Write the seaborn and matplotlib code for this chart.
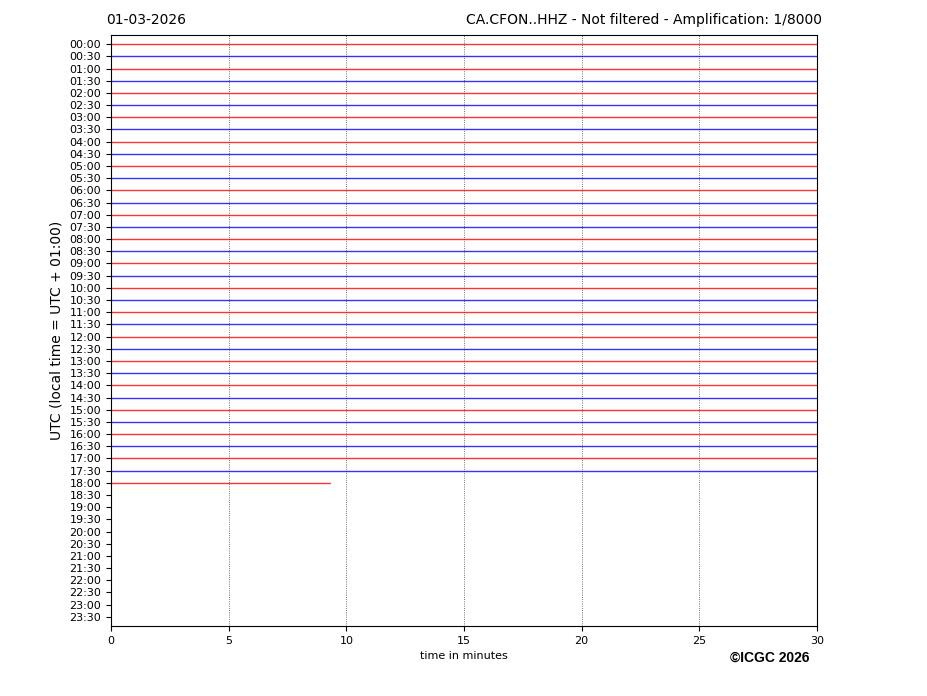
import pandas as pd
import matplotlib
matplotlib.use("Agg")
import matplotlib.pyplot as plt
import seaborn as sns

# row labels (one line every 30 minutes)
row_labels = ["%02d:%02d" % (h, m) for h in range(24) for m in (0, 30)]
# minutes recorded on each line that has data (00:00 .. 18:00)
trace_end = [30] * 36 + [9.3]
# trace colours alternate red / blue
trace_colors = ["red", "blue"] * 18 + ["red"]
# trace offset from the line baseline (signal is near-flat at this gain)
trace_level = [0.0] * 37

rows = []
for i, (end, lvl) in enumerate(zip(trace_end, trace_level)):
    for t in (0.0, end):
        rows.append({"minute": t, "pos": i + lvl, "row": row_labels[i]})
df = pd.DataFrame(rows)

sns.set_style("ticks")
plt.rcParams["font.family"] = ["DejaVu Sans"]
plt.rcParams.update({"text.color": "black", "axes.labelcolor": "black",
                     "xtick.color": "black", "ytick.color": "black"})

fig = plt.figure(figsize=(9.27, 6.96), dpi=100)
ax = fig.add_axes([111 / 927, 1 - 626 / 696, 706 / 927, 591 / 696])

sns.lineplot(data=df, x="minute", y="pos", hue="row", units="row", estimator=None,
             palette=dict(zip(row_labels[:37], trace_colors)), legend=False,
             linewidth=1.0, alpha=0.8, ax=ax)

ax.set_xlim(0, 30)
ax.set_ylim(47.75, -0.75)
ax.set_yticks(range(len(row_labels)))
ax.set_yticklabels(row_labels, fontsize=8)
ax.set_xticks([0, 5, 10, 15, 20, 25, 30])
ax.tick_params(axis="x", labelsize=8)
ax.xaxis.grid(True, linestyle=":", color="#444444", linewidth=0.6)
ax.yaxis.grid(False)
ax.set_xlabel("time in minutes", fontsize=8)
ax.set_ylabel("UTC (local time = UTC + 01:00)", fontsize=10)
for s in ax.spines.values():
    s.set_visible(True)
    s.set_color("black")

fig.text(106 / 927, 1 - 20 / 696, "01-03-2026", fontsize=10, va="center", ha="left")
fig.text(822 / 927, 1 - 20 / 696, "CA.CFON..HHZ - Not filtered - Amplification: 1/8000",
         fontsize=10, va="center", ha="right")
fig.text(770 / 927, 1 - 658 / 696, "©ICGC 2026", fontsize=10, fontweight="bold",
         family="Liberation Sans", ha="center", va="center")

fig.savefig("out.png", dpi=100)
